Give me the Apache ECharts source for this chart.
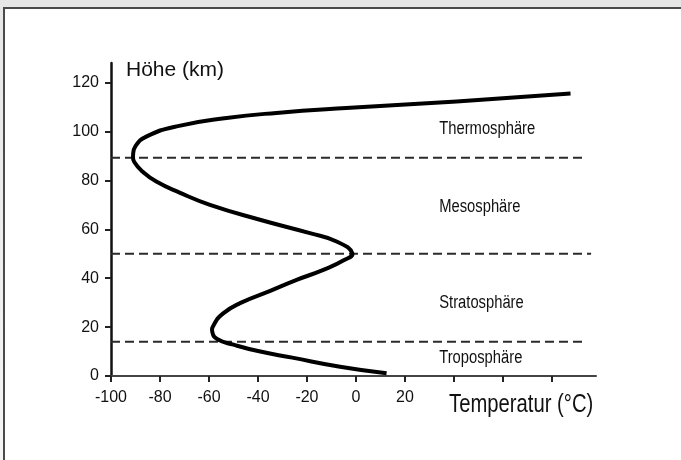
<!DOCTYPE html>
<html>
<head>
<meta charset="utf-8">
<script src="https://cdn.jsdelivr.net/npm/echarts@6/dist/echarts.min.js"></script>
<style>
  html, body { margin: 0; padding: 0; }
  body { width: 681px; height: 460px; position: relative; overflow: hidden;
         background: linear-gradient(#e6e6e6, #f4f4f4); }
  .frame { position: absolute; left: 3px; top: 7px; right: 0; bottom: 0;
           background: #fff; border-top: 2px solid #4a4a4a; border-left: 2px solid #4a4a4a; }
  #main { position: absolute; left: 0; top: 0; width: 681px; height: 460px; }
</style>
</head>
<body>
<div class="frame"></div>
<div id="main"></div>
<script>
// Temperaturprofil der Atmosphäre: [Temperatur °C, Höhe km]
const profile = [
  [12.5, 1.1], [-6.5, 3.8], [-26, 7.5], [-40, 10.2], [-50, 12.8], [-56.5, 15],
  [-58.6, 17.8], [-58, 21], [-54.2, 25.6], [-47.3, 29.8], [-35, 34.8],
  [-24.2, 39.3], [-13.3, 43.4], [-5, 47.3], [-1.5, 50.2], [-7.9, 55], [-18.8, 58.4],
  [-39.2, 63.9], [-59.6, 70], [-72, 75], [-81.5, 79.5], [-87, 83.5],
  [-90.5, 87.5], [-91, 90], [-90, 94], [-85.4, 98], [-73.2, 102.1], [-52.8, 105.5],
  [-32.4, 107.6], [-4, 109.6], [41.1, 112.3], [87.6, 115.5]
];
// Grenzen der Schichten (Höhe km) und Ende der gestrichelten Linien (°C)
const boundaryHeights = [89.3, 50, 14];
const boundaryEnds = [94, 96, 93.5];
const boundaryStart = -100;
// Schichtnamen: [x °C, y km, Name]
const layers = [
  [34, 101.1, 'Thermosphäre'],
  [34, 69.3, 'Mesosphäre'],
  [34, 30, 'Stratosphäre'],
  [34, 7.2, 'Troposphäre']
];
const xTicks = [-100, -80, -60, -40, -20, 0, 20, 40, 60, 80];
const xLabels = [-100, -80, -60, -40, -20, 0, 20];
const yTicks = [0, 20, 40, 60, 80, 100, 120];

const font = "'Liberation Sans', Arial, sans-serif";

const chart = echarts.init(document.getElementById('main'));

const boundarySeries = boundaryHeights.map((h, i) => ({
  type: 'line',
  data: [[boundaryStart, h], [boundaryEnds[i], h]],
  symbol: 'none',
  silent: true,
  z: 2,
  lineStyle: { color: '#2b2b2b', width: 2, type: [9, 5] }
}));

chart.setOption({
  animation: false,
  backgroundColor: 'transparent',
  grid: { left: 111, right: 85, top: 63, bottom: 84 },
  xAxis: {
    type: 'value',
    min: -100,
    max: 98,
    splitLine: { show: false },
    axisLine: { onZero: false, lineStyle: { color: '#444', width: 2 } },
    axisTick: { customValues: xTicks, length: 6, lineStyle: { color: '#222', width: 2 } },
    axisLabel: { customValues: xLabels, color: '#111', fontSize: 16, fontFamily: font, margin: 14 }
  },
  yAxis: {
    type: 'value',
    min: 0,
    max: 128,
    splitLine: { show: false },
    axisLine: { onZero: false, lineStyle: { color: '#111', width: 2.5 } },
    axisTick: { customValues: yTicks, length: 6, lineStyle: { color: '#222', width: 2 } },
    axisLabel: { customValues: yTicks, color: '#111', fontSize: 16, fontFamily: font, margin: 12 }
  },
  series: [
    ...boundarySeries,
    {
      // glatte Kurve durch alle Punkte
      type: 'custom',
      data: profile,
      z: 3,
      silent: true,
      renderItem: (params, api) => {
        if (params.dataIndex !== 0) return null;
        const pts = profile.map(p => api.coord(p));
        return {
          type: 'polyline',
          shape: { points: pts, smooth: 0.5 },
          style: { stroke: '#000', lineWidth: 4, fill: null, lineCap: 'butt', lineJoin: 'round' }
        };
      }
    }
  ]
});

// Texte: Achsentitel und Schichtnamen (schmal gestaucht wie im Original)
const texts = [
  { type: 'text', x: 126, y: 70,
    style: { text: 'Höhe (km)', fontSize: 21, fontFamily: font, fill: '#111', verticalAlign: 'middle' } },
  { type: 'text', x: 449, y: 405, scaleX: 0.81,
    style: { text: 'Temperatur (°C)', fontSize: 25, fontFamily: font, fill: '#111', verticalAlign: 'middle' } }
];
layers.forEach(l => {
  const p = chart.convertToPixel({ gridIndex: 0 }, [l[0], l[1]]);
  texts.push({ type: 'text', x: p[0], y: p[1], scaleX: 0.82,
    style: { text: l[2], fontSize: 18, fontFamily: font, fill: '#111', verticalAlign: 'middle' } });
});
chart.setOption({ graphic: texts });
</script>
</body>
</html>
